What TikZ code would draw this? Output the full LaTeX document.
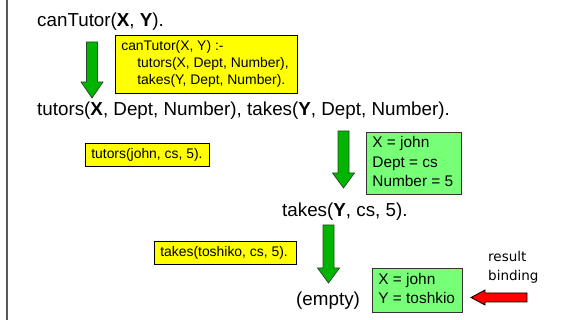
\documentclass[tikz,border=0pt]{standalone}
\usepackage{fontspec}
\setmainfont{Liberation Sans}
\newfontfamily\notefont{DejaVu Sans}
\definecolor{noteyellow}{RGB}{255,255,0}
\definecolor{bindgreen}{RGB}{119,255,119}
\definecolor{stepgreen}{RGB}{0,180,0}
\definecolor{stepedge}{RGB}{40,70,40}
\definecolor{framegray}{RGB}{90,90,90}
\tikzset{
  goal/.style={inner sep=0pt, anchor=base west, font=\fontsize{18.8}{22}\selectfont},
  factbox/.style={draw=black, line width=0.6pt, fill=noteyellow, anchor=north west,
    inner xsep=6pt, inner ysep=0pt, font=\fontsize{13.9}{16.7}\selectfont},
  bindbox/.style={draw=black!80, line width=0.8pt, fill=bindgreen, anchor=north west,
    inner xsep=6pt, inner ysep=0pt, font=\fontsize{15.4}{19.3}\selectfont},
  downstep/.style={draw=stepedge, line width=0.7pt, fill=stepgreen, line join=miter},
  resultarrow/.style={draw=black, line width=0.8pt, fill=red, line join=miter},
}
% left-aligned block of lines in a box of fixed width
\newcommand\lines[2]{\makebox[#1][l]{\begin{tabular}{@{}l@{}}#2\end{tabular}}}
% block arrow pointing down: centre x, top y, head start y, tip y
\newcommand\stepdown[4]{%
  \draw[downstep] (#1-5.5,#2) -- (#1+5.5,#2) -- (#1+5.5,#3) -- (#1+11,#3)
    -- (#1,#4) -- (#1-11,#3) -- (#1-5.5,#3) -- cycle;}
\begin{document}
\begin{tikzpicture}[x=1pt,y=-1pt]
\useasboundingbox (0,0) rectangle (563,320);
\draw[framegray, line width=1.4pt] (7,0) -- (7,320);

% resolution steps
\node[goal] (g0) at (37,27) {canTutor(\textbf{X}, \textbf{Y}).};
\node[goal] (g1) at (37,116) {tutors(\textbf{X}, Dept, Number), takes(\textbf{Y}, Dept, Number).};
\node[goal] (g2) at (282,217) {takes(\textbf{Y}, cs, 5).};
\node[goal] (g3) at (296,306) {(empty)};

% rule and facts used
\node[factbox, minimum height=58pt] (rule) at (115,35)
  {\lines{170pt}{canTutor(X, Y) :-\\\hspace*{16pt}tutors(X, Dept, Number),\\\hspace*{16pt}takes(Y, Dept, Number).}};
\node[factbox, minimum height=23pt] (f1) at (85,143)
  {\lines{112pt}{tutors(john, cs, 5).}};
\node[factbox, minimum height=23pt] (f2) at (154,241)
  {\lines{130pt}{takes(toshiko, cs, 5).}};

% bindings
\node[bindbox, minimum height=62pt] (b1) at (366,132)
  {\lines{83pt}{X = john\\Dept = cs\\Number = 5}};
\node[bindbox, minimum height=44pt] (b2) at (372,268)
  {\lines{78pt}{X = john\\Y = toshkio}};

% step arrows
\stepdown{92}{42}{82}{98}
\stepdown{343.5}{131}{173}{188}
\stepdown{328.5}{225}{268}{283}

% result marker
\node[font=\notefont\fontsize{13.5}{19}\selectfont, anchor=base west, inner sep=0pt] (res1) at (488,262) {result};
\node[font=\notefont\fontsize{13.5}{19}\selectfont, anchor=base west, inner sep=0pt] (res2) at (488,281) {binding};
\draw[resultarrow] (471,297.5) -- (485,290) -- (485,293) -- (527,293) -- (527,302)
  -- (485,302) -- (485,305) -- cycle;
\end{tikzpicture}
\end{document}
